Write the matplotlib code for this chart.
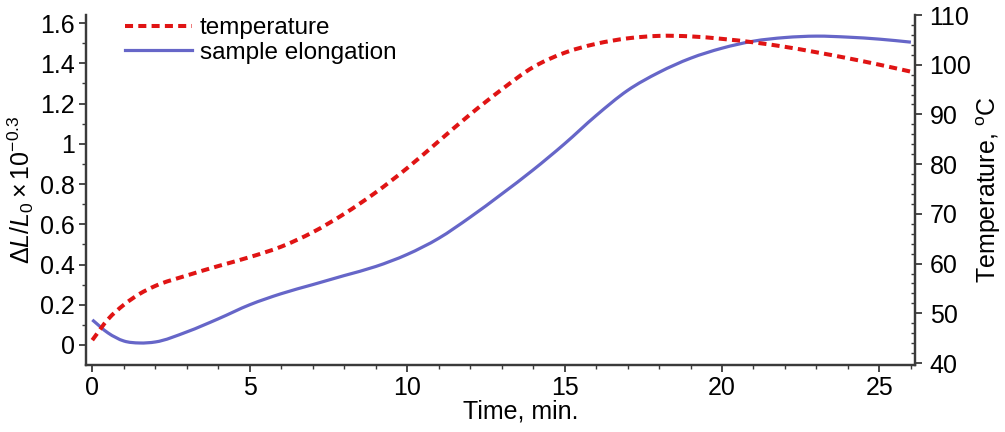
import matplotlib
matplotlib.use("Agg")
import matplotlib.pyplot as plt
import numpy as np
from matplotlib.ticker import MultipleLocator, FormatStrFormatter
from matplotlib.lines import Line2D
from matplotlib.path import Path
from matplotlib.patches import PathPatch

plt.rcParams['font.family'] = ['Liberation Sans', 'DejaVu Sans']
plt.rcParams['mathtext.fontset'] = 'custom'
plt.rcParams['mathtext.rm'] = 'Liberation Sans'
plt.rcParams['mathtext.it'] = 'Liberation Sans:italic'

# temperature (right axis)
temp_time = [0, 0.5, 1, 1.5, 2, 3, 4, 5, 6, 7, 8, 9, 10, 11, 12, 13, 14, 15, 16, 17,
             18, 19, 20, 21, 22, 23, 24, 25, 26]
temperature = [44.6, 48.8, 51.7, 53.9, 55.5, 57.6, 59.5, 61.3, 63.4, 66.3, 70.0, 74.3,
               79.2, 84.6, 90.0, 95.0, 99.5, 102.4, 104.2, 105.3, 105.8, 105.7, 105.2,
               104.5, 103.6, 102.5, 101.3, 100.0, 98.6]

# sample elongation (left axis)
elong_time = [0, 0.5, 1, 1.5, 2, 3, 4, 5, 6, 7, 8, 9, 10, 11, 12, 13, 14, 15, 16, 17,
              18, 19, 20, 21, 22, 23, 24, 25, 26]
elongation = [0.125, 0.06, 0.02, 0.01, 0.015, 0.065, 0.13, 0.20, 0.255, 0.30, 0.345,
              0.39, 0.45, 0.53, 0.635, 0.75, 0.87, 1.0, 1.14, 1.265, 1.355, 1.425, 1.475,
              1.51, 1.528, 1.535, 1.53, 1.52, 1.505]

red = '#e01414'
blue = '#6666c8'
spine_c = '#3a3a3a'
fs = 18


def smooth_path(x, y):
    """Bezier path (drawn by matplotlib) passing through the given points."""
    x = np.asarray(x, float)
    y = np.asarray(y, float)
    n = len(x)
    d = np.diff(y) / np.diff(x)
    m = np.empty(n)
    m[0], m[-1] = d[0], d[-1]
    for i in range(1, n - 1):
        h0, h1 = x[i] - x[i - 1], x[i + 1] - x[i]
        m[i] = (h1 * d[i - 1] + h0 * d[i]) / (h0 + h1)
    verts = [(x[0], y[0])]
    codes = [Path.MOVETO]
    for i in range(n - 1):
        h = x[i + 1] - x[i]
        verts += [(x[i] + h / 3, y[i] + m[i] * h / 3),
                  (x[i + 1] - h / 3, y[i + 1] - m[i + 1] * h / 3),
                  (x[i + 1], y[i + 1])]
        codes += [Path.CURVE4] * 3
    return Path(verts, codes)


fig = plt.figure(figsize=(10.05, 4.32), dpi=100)
ax = fig.add_axes([86/1005, 1-365/432, (915-86)/1005, 350/432])
ax2 = ax.twinx()

red_dash = (0, (2.0, 1.3))
ax.add_patch(PathPatch(smooth_path(elong_time, elongation), fill=False,
                       edgecolor=blue, lw=2.3, capstyle='butt'))
ax2.add_patch(PathPatch(smooth_path(temp_time, temperature), fill=False,
                        edgecolor=red, lw=2.9, linestyle=red_dash, capstyle='butt'))

ax.set_xlim(-0.2, 26.13)
ax.set_ylim(-0.0994, 1.64)
ax2.set_ylim(39.6, 110)

ax.xaxis.set_major_locator(MultipleLocator(5))
ax.xaxis.set_minor_locator(MultipleLocator(1))
ax.yaxis.set_major_locator(MultipleLocator(0.2))
ax.yaxis.set_minor_locator(MultipleLocator(0.1))
ax.yaxis.set_major_formatter(FormatStrFormatter('%g'))
ax2.yaxis.set_major_locator(MultipleLocator(10))
ax2.yaxis.set_minor_locator(MultipleLocator(2))

for a in (ax, ax2):
    for s in a.spines.values():
        s.set_color(spine_c)
        s.set_linewidth(1.6)
    a.spines['top'].set_visible(False)

ax.tick_params(axis='x', which='major', direction='out', length=5, width=1.3,
               color=spine_c, labelsize=fs, pad=3)
ax.tick_params(axis='y', which='major', direction='out', length=5, width=1.3,
               color=spine_c, labelsize=fs, pad=3)
ax.tick_params(axis='both', which='minor', direction='out', length=3, width=1.0,
               color=spine_c)
ax2.tick_params(axis='y', which='major', direction='out', length=5, width=1.3,
                color=spine_c, labelsize=fs, pad=5.5)
ax2.tick_params(axis='y', which='minor', direction='in', length=3, width=1.0,
                color=spine_c)

ax.set_xlabel('Time, min.', fontsize=fs)
ax.xaxis.set_label_coords(0.524, -0.1)
ax.set_ylabel(r'$\Delta L/L_0\times 10^{-0.3}$', fontsize=fs)
ax.yaxis.set_label_coords(-0.06, 0.5)
ax2.set_ylabel(r'Temperature, $^{\mathrm{o}}$C', fontsize=fs)
ax2.yaxis.set_label_coords(1.072, 0.5)

handles = [Line2D([], [], color=red, lw=2.9, linestyle=red_dash),
           Line2D([], [], color=blue, lw=2.3)]
leg = ax.legend(handles, ['temperature', 'sample elongation'], loc='upper left',
                bbox_to_anchor=(125/1005, 1-17/432), bbox_transform=fig.transFigure,
                frameon=False, fontsize=17.5, handlelength=2.75, handletextpad=0.33,
                labelspacing=0.12, borderaxespad=0, borderpad=0)

fig.savefig('out.png', dpi=100)
